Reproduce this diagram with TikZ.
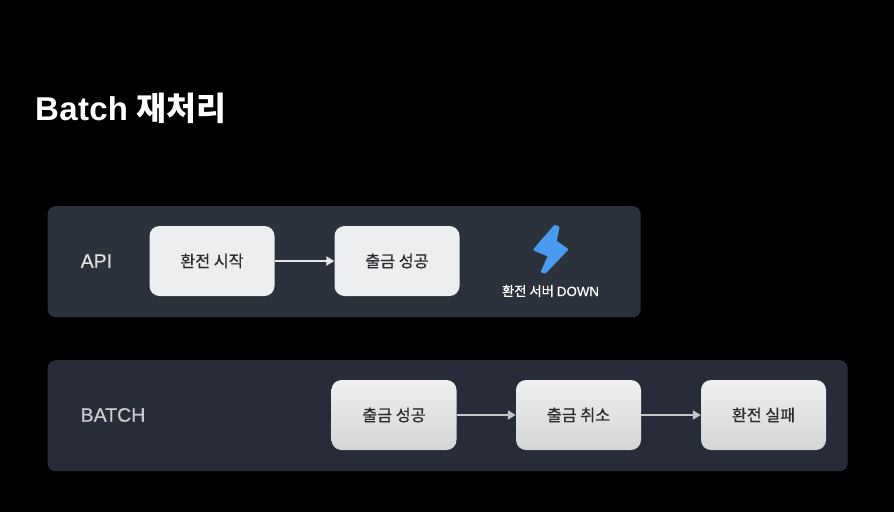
\documentclass[tikz,border=0pt]{standalone}
\usepackage{fontspec}
\setmainfont{Noto Sans CJK KR}
\newfontfamily\latinface{Liberation Sans}
\newfontfamily\latinbold[FakeBold=0.6]{Liberation Sans}
\usetikzlibrary{arrows.meta,positioning}
\definecolor{panelA}{HTML}{2B323B}
\definecolor{panelB}{HTML}{272C38}
\definecolor{boxA}{HTML}{EDEEF0}
\definecolor{inkdark}{HTML}{2A2C30}
\definecolor{bolt}{HTML}{4A9BEE}
\definecolor{linkA}{HTML}{E4E6EA}
\definecolor{linkB}{HTML}{C4C6CA}
\tikzset{
  panel/.style={rounded corners=8pt,inner sep=0pt,anchor=north west,minimum height=111pt},
  stepbox/.style={rounded corners=10pt,inner sep=0pt,minimum width=125pt,minimum height=70pt,text=inkdark,font=\fontsize{16.2}{19}\selectfont\addfontfeature{FakeBold=0.6}},
  apibox/.style={stepbox,fill=boxA},
  batchbox/.style={stepbox,top color=gray!12,bottom color=gray!33,draw=none},
  lane/.style={text=#1,font=\latinbold\fontsize{19.5}{22}\selectfont,anchor=west,inner sep=0pt},
  link/.style={draw=#1,line width=2pt,-{Triangle[length=8pt,width=9pt]}},
}
\begin{document}
\begin{tikzpicture}[x=1pt,y=-1pt]
\useasboundingbox[fill=black] (0,0) rectangle (894,512);
\node[text=white,anchor=west,inner sep=0pt] (title) at (35,108) {{\latinface\fontsize{33}{36}\selectfont\bfseries\addfontfeature{LetterSpace=1}Batch}\hspace{8pt}{\fontsize{32.5}{36}\selectfont\bfseries 재처리}};
\node[panel,fill=panelA,minimum width=593pt] (apipanel) at (47.5,206) {};
\node[panel,fill=panelB,minimum width=800pt] (batchpanel) at (47.5,360) {};
\node[lane=white!88!black] (apilabel) at (80.5,261) {API};
\node[lane=white!80!black] (batchlabel) at (80.5,415) {BATCH};
\node[apibox] (a1) at (212,261) {환전 시작};
\node[apibox] (a2) at (397,261) {출금 성공};
\draw[link=linkA] (a1) -- (a2);
\filldraw[fill=bolt,draw=bolt,line width=3pt,line join=round] (555,226.5) -- (558,227.5) -- (555,241.5) -- (566.5,249.5) -- (545,272) -- (542.5,271.5) -- (549.5,255.5) -- (535,249.5) -- cycle;
\node[text=white,inner sep=0pt,font=\fontsize{13.3}{15}\selectfont\addfontfeature{FakeBold=0.5}] (down) at (550.5,291) {환전 서버 {\latinbold\fontsize{13.3}{15}\selectfont DOWN}};
\node[batchbox] (b1) at (394,415) {출금 성공};
\node[batchbox] (b2) at (578.5,415) {출금 취소};
\node[batchbox] (b3) at (763.5,415) {환전 실패};
\draw[link=linkB] (b1) -- (b2);
\draw[link=linkB] (b2) -- (b3);
\end{tikzpicture}
\end{document}
